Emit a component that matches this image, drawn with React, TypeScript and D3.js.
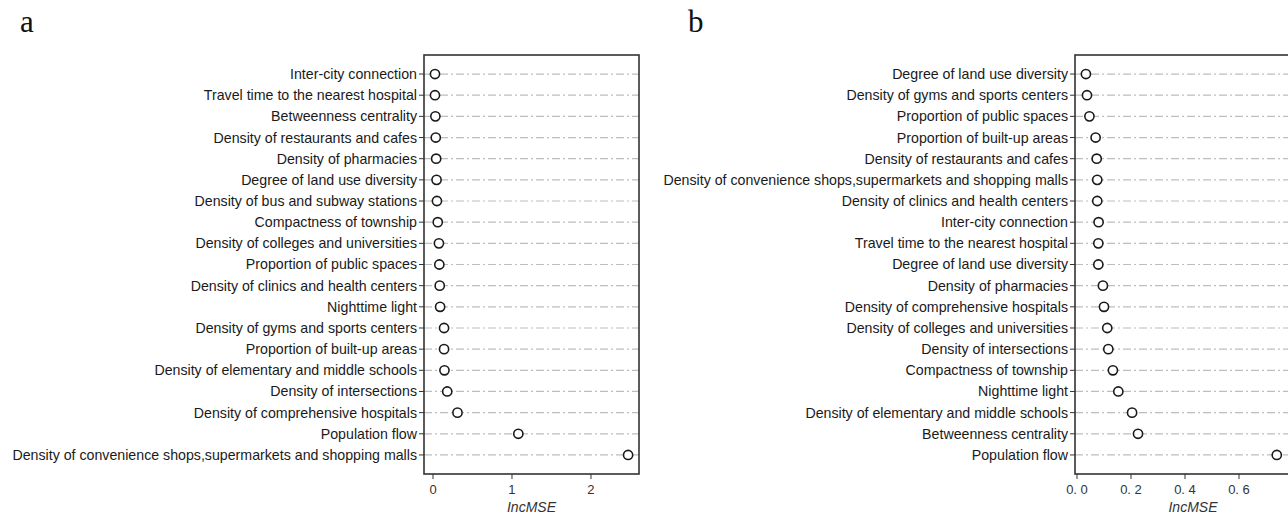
import * as d3 from "d3";

// panel a: variable importance, model a
const factorsA = [
  "Inter-city connection",
  "Travel time to the nearest hospital",
  "Betweenness centrality",
  "Density of restaurants and cafes",
  "Density of pharmacies",
  "Degree of land use diversity",
  "Density of bus and subway stations",
  "Compactness of township",
  "Density of colleges and universities",
  "Proportion of public spaces",
  "Density of clinics and health centers",
  "Nighttime light",
  "Density of gyms and sports centers",
  "Proportion of built-up areas",
  "Density of elementary and middle schools",
  "Density of intersections",
  "Density of comprehensive hospitals",
  "Population flow",
  "Density of convenience shops,supermarkets and shopping malls",
];
const incMseA = [
  0.025, 0.025, 0.03, 0.035, 0.04, 0.045, 0.05, 0.06, 0.075, 0.08, 0.085, 0.09,
  0.14, 0.14, 0.145, 0.18, 0.31, 1.08, 2.47,
];
const ticksA = [0, 1, 2];

// panel b
const factorsB = [
  "Degree of land use diversity",
  "Density of gyms and sports centers",
  "Proportion of public spaces",
  "Proportion of built-up areas",
  "Density of restaurants and cafes",
  "Density of convenience shops,supermarkets and shopping malls",
  "Density of clinics and health centers",
  "Inter-city connection",
  "Travel time to the nearest hospital",
  "Degree of land use diversity",
  "Density of pharmacies",
  "Density of comprehensive hospitals",
  "Density of colleges and universities",
  "Density of intersections",
  "Compactness of township",
  "Nighttime light",
  "Density of elementary and middle schools",
  "Betweenness centrality",
  "Population flow",
];
const incMseB = [
  0.033, 0.037, 0.046, 0.069, 0.073, 0.075, 0.075, 0.08, 0.079, 0.079, 0.096,
  0.1, 0.112, 0.116, 0.133, 0.153, 0.204, 0.226, 0.74,
];
const ticksB = [0, 0.2, 0.4, 0.6];

const FONT = "'Liberation Sans', Arial, sans-serif";
const TOP = 55;
const BOTTOM = 474;

type PanelProps = {
  letter: string;
  letterX: number;
  left: number;
  right: number;
  domain: [number, number];
  factors: string[];
  values: number[];
  ticks: number[];
  fmt: (v: number) => string;
};

const DotPanel = ({ letter, letterX, left, right, domain, factors, values, ticks, fmt }: PanelProps) => {
  const x = d3.scaleLinear().domain(domain).range([left, right]);
  const y = d3
    .scalePoint<number>()
    .domain(d3.range(factors.length))
    .range([TOP, BOTTOM])
    .padding(0.9);

  return (
    <g>
      <text x={letterX} y={32} fontFamily="'Liberation Serif', 'Times New Roman', serif" fontSize={31} fill="#111">
        {letter}
      </text>
      {factors.map((f, i) => (
        <g key={i}>
          <line
            x1={left}
            x2={right}
            y1={y(i)}
            y2={y(i)}
            stroke="#bdbdbd"
            strokeWidth={1.2}
            strokeDasharray="8,3,2,3"
          />
          <line x1={left - 5} x2={left} y1={y(i)} y2={y(i)} stroke="#333" strokeWidth={1} />
          <text
            x={left - 7}
            y={y(i)}
            dy="0.35em"
            textAnchor="end"
            fontFamily={FONT}
            fontSize={14.2}
            fill="#1a1a1a"
          >
            {f}
          </text>
          <circle cx={x(values[i])} cy={y(i)} r={4.6} fill="white" stroke="#1a1a1a" strokeWidth={1.6} />
        </g>
      ))}
      <rect x={left} y={TOP} width={right - left} height={BOTTOM - TOP} fill="none" stroke="#333" strokeWidth={1.6} />
      {ticks.map((t) => (
        <g key={t}>
          <line x1={x(t)} x2={x(t)} y1={BOTTOM} y2={BOTTOM + 5} stroke="#333" strokeWidth={1} />
          <text x={x(t)} y={BOTTOM + 20} textAnchor="middle" fontFamily={FONT} fontSize={13} fill="#333">
            {fmt(t)}
          </text>
        </g>
      ))}
      <text
        x={(left + right) / 2}
        y={BOTTOM + 38}
        textAnchor="middle"
        fontFamily={FONT}
        fontStyle="italic"
        fontSize={14}
        fill="#333"
      >
        IncMSE
      </text>
    </g>
  );
};

const fmtB = (v: number) => d3.format(".1f")(v).replace(".", ". ");

export default function App() {
  return (
    <div style={{ width: 1288, height: 514, overflow: "hidden" }}>
      <style>{"body{margin:0}"}</style>
      <svg width={1288} height={514} style={{ display: "block", background: "white" }}>
        <DotPanel
          letter="a"
          letterX={20}
          left={424}
          right={639}
          domain={[-0.114, 2.608]}
          factors={factorsA}
          values={incMseA}
          ticks={ticksA}
          fmt={(v) => String(v)}
        />
        <DotPanel
          letter="b"
          letterX={688}
          left={1075}
          right={1311}
          domain={[-0.0074, 0.8667]}
          factors={factorsB}
          values={incMseB}
          ticks={ticksB}
          fmt={fmtB}
        />
      </svg>
    </div>
  );
}
